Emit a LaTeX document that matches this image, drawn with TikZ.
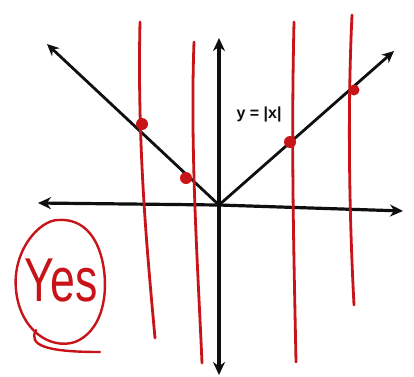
\documentclass[tikz,border=0pt]{standalone}
\usepackage{fontspec}
\setmainfont{Liberation Sans}
\usetikzlibrary{arrows.meta}
\definecolor{pen}{RGB}{15,15,15}
\definecolor{redpen}{RGB}{200,20,25}
\begin{document}
\begin{tikzpicture}[x=1pt,y=-1pt,
  axis/.style={draw=pen,line width=3.2pt,-{Stealth[length=13pt,width=12pt]}},
  graph/.style={draw=pen,line width=2.8pt,-{Stealth[length=12pt,width=11pt]}},
  redline/.style={draw=redpen,line width=2.8pt,line cap=round},
  reddot/.style={circle,fill=redpen,inner sep=0pt,minimum size=12pt},
  lbl/.style={font=\fontsize{16}{18}\selectfont\bfseries,text=pen}]
\useasboundingbox[fill=white] (0,0) rectangle (414,376);
% axes
\coordinate (O) at (219,205);
\coordinate (xl) at (38,203);
\coordinate (xr) at (403,211);
\coordinate (yt) at (219,38);
\coordinate (yb) at (219,375);
\draw[axis] (O) -- (xl);
\draw[axis] (O) -- (xr);
\draw[axis] (O) -- (yt);
\draw[axis] (O) -- (yb);
% y=|x|
\coordinate (al) at (47,44);
\coordinate (ar) at (394,51);
\draw[graph] (O) -- (al);
\draw[graph] (O) -- (ar);
\node[lbl] (f) at (259,114) {y = |x|};
% red vertical lines
\coordinate (a1) at (140,22); \coordinate (b1) at (155,338);
\coordinate (a2) at (194,42); \coordinate (b2) at (202,363);
\coordinate (a3) at (294,22); \coordinate (b3) at (296,362);
\coordinate (a4) at (352,15); \coordinate (b4) at (354,305);
\draw[redline] (a1) .. controls (137,150) and (148,260) .. (b1);
\draw[redline] (a2) .. controls (190,150) and (198,270) .. (b2);
\draw[redline] (a3) .. controls (291,150) and (294,260) .. (b3);
\draw[redline] (a4) .. controls (347,120) and (350,230) .. (b4);
% red dots
\node[reddot] (d1) at (142,124) {};
\node[reddot] (d2) at (186,178) {};
\node[reddot] (d3) at (290,142) {};
\node[reddot,minimum size=11pt] (d4) at (354,90) {};
% Yes
\node[text=redpen,font=\fontsize{62}{64}\selectfont,xscale=0.72] (yes) at (61,280) {Yes};
\draw[redline,line width=2.4pt] (58,220) .. controls (40,220) and (12,250) .. (16,290)
  .. controls (20,330) and (50,350) .. (75,342) .. controls (100,332) and (108,300) .. (104,270)
  .. controls (100,240) and (85,218) .. (58,220);
\draw[redline,line width=2.4pt] (36,330) .. controls (28,345) and (45,352) .. (100,352);
\end{tikzpicture}
\end{document}
